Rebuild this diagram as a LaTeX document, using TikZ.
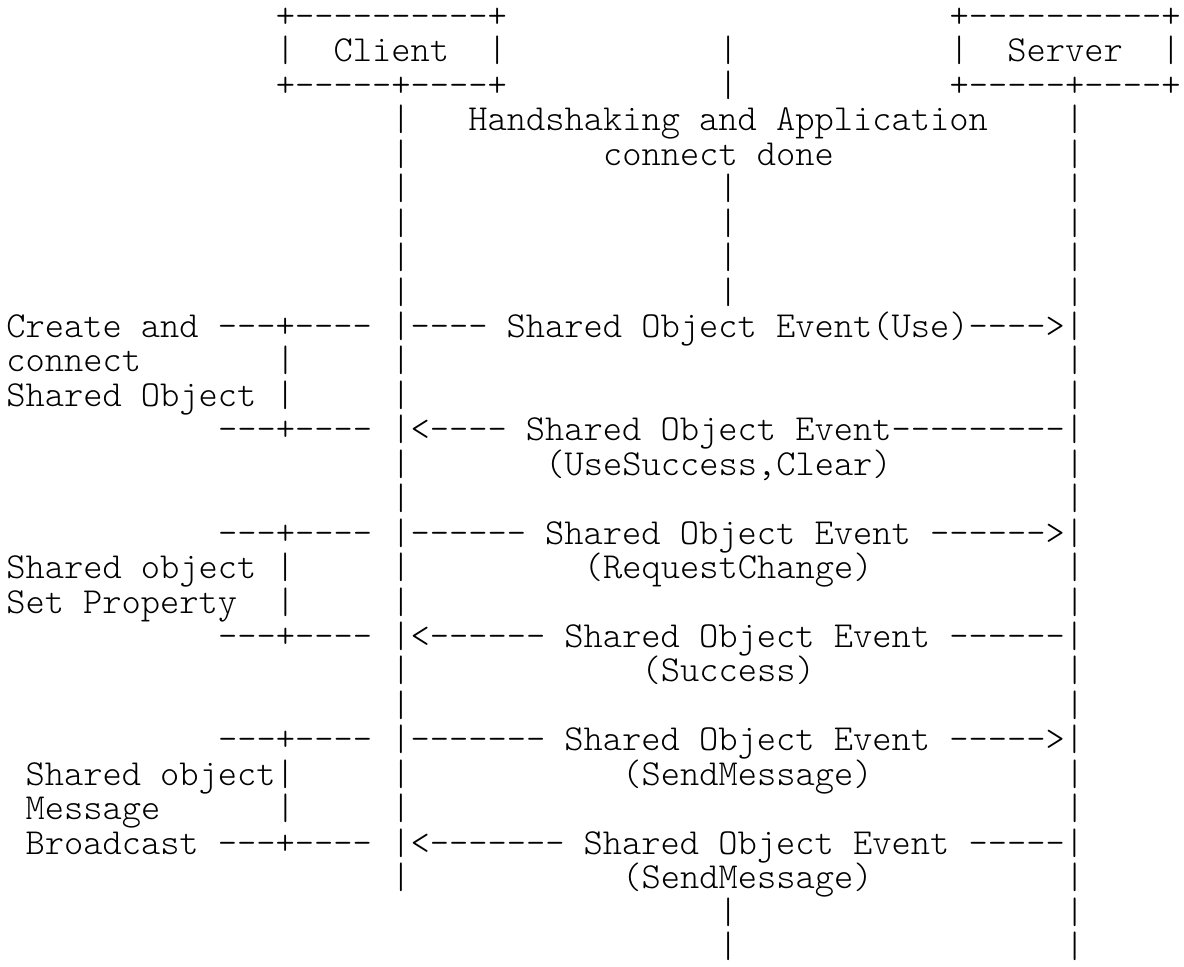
\documentclass[tikz,border=0pt]{standalone}
\usepackage{tikz}
\tikzset{>=stealth}
\tikzset{asc/.style={anchor=base west,inner sep=0pt,font=\fontsize{18.33}{20}\fontseries{l}\ttfamily}}
\newcommand\dd[1]{\foreach\nn in {1,...,#1}{\hbox{-}}}

\begin{document}
\begin{tikzpicture}[x=9.625pt,y=-17.22pt]
\useasboundingbox (-0.305,0.2) rectangle (61.2,28.249);
% boxes
\node[asc] (clienttop) at (14,1) {+\dd{10}+};
\node[asc] (servertop) at (49,1) {+\dd{10}+};
\node[asc] (clientl) at (14,2) {|};
\node[asc] (client) at (17,2) {Client};
\node[asc] (clientr) at (25,2) {|};
\node[asc] (serverl) at (49,2) {|};
\node[asc] (server) at (52,2) {Server};
\node[asc] (serverr) at (60,2) {|};
\node[asc] (clientbot) at (14,3) {+\dd{5}+\dd{4}+};
\node[asc] (serverbot) at (49,3) {+\dd{5}+\dd{4}+};
% lifelines
\foreach \r in {4,...,9,11,12,14,15,17,18,20,21,23,24,26}
    \node[asc] (lft\r) at (20,\r) {|};
\foreach \r in {4,...,9,11,12,14,15,17,18,20,21,23,24,26,27,28}
    \node[asc] (rgt\r) at (55,\r) {|};
\foreach \r in {2,3,6,7,8,9,27,28}
    \node[asc] (mid\r) at (37,\r) {|};
\node[asc] (hs) at (24,4) {Handshaking and Application};
\node[asc] (cd) at (31,5) {connect done};
% create and connect
\node[asc] (create) at (0,10) {Create and \dd{3}+\dd{4}};
\node[asc] (use) at (20,10) {|\dd{4} Shared Object Event(Use)\dd{4}>|};
\node[asc] (connect) at (0,11) {connect};
\node[asc] (brk11) at (14,11) {|};
\node[asc] (sobj) at (0,12) {Shared Object |};
\node[asc] (ret1) at (11,13) {\dd{3}+\dd{4}};
\node[asc] (usesucc) at (20,13) {|<\dd{4} Shared Object Event\dd{9}|};
\node[asc] (clear) at (28,14) {(UseSuccess,Clear)};
% set property
\node[asc] (req1) at (11,16) {\dd{3}+\dd{4}};
\node[asc] (reqchg) at (20,16) {|\dd{6} Shared Object Event \dd{6}>|};
\node[asc] (setobj) at (0,17) {Shared object |};
\node[asc] (reqlbl) at (30,17) {(RequestChange)};
\node[asc] (setprop) at (0,18) {Set Property};
\node[asc] (brk18) at (14,18) {|};
\node[asc] (ret2) at (11,19) {\dd{3}+\dd{4}};
\node[asc] (succ) at (20,19) {|<\dd{6} Shared Object Event \dd{6}|};
\node[asc] (succlbl) at (33,20) {(Success)};
% message broadcast
\node[asc] (req2) at (11,22) {\dd{3}+\dd{4}};
\node[asc] (send) at (20,22) {|\dd{7} Shared Object Event \dd{5}>|};
\node[asc] (msgobj) at (1,23) {Shared object|};
\node[asc] (sendlbl) at (32,23) {(SendMessage)};
\node[asc] (msg) at (1,24) {Message};
\node[asc] (brk24) at (14,24) {|};
\node[asc] (bcast) at (1,25) {Broadcast \dd{3}+\dd{4}};
\node[asc] (recv) at (20,25) {|<\dd{7} Shared Object Event \dd{5}|};
\node[asc] (recvlbl) at (32,26) {(SendMessage)};
\end{tikzpicture}
\end{document}
